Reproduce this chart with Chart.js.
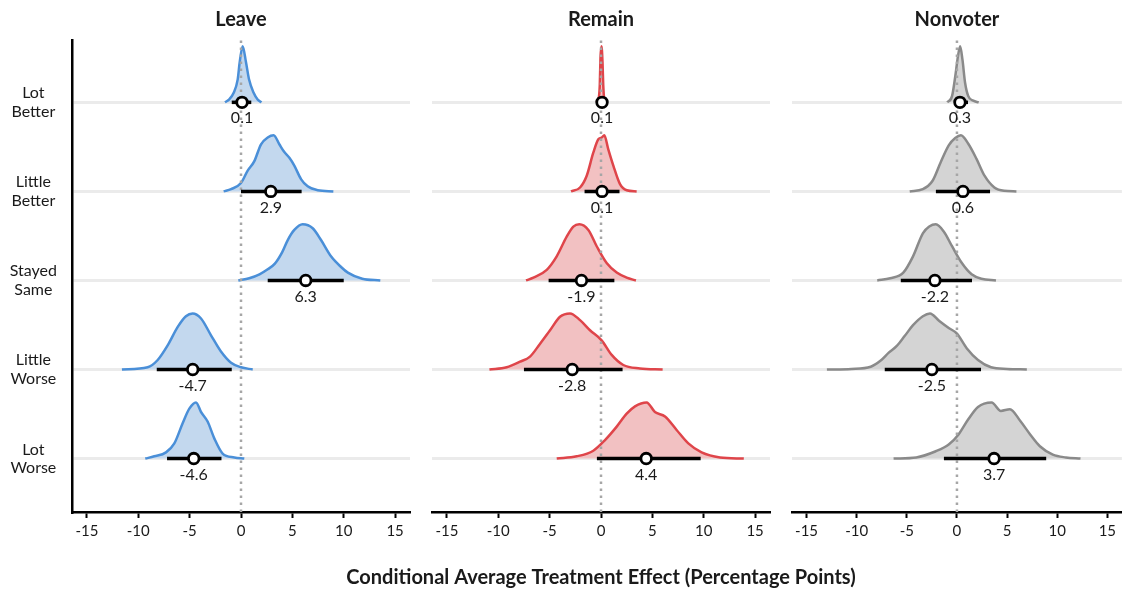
<!DOCTYPE html>
<html>
<head>
<meta charset="utf-8">
<script src="https://cdn.jsdelivr.net/npm/chart.js@4.4.1/dist/chart.umd.min.js"></script>
<style>
  html, body { margin: 0; padding: 0; background: #fff; }
  #wrap { position: relative; width: 1130px; height: 592px; overflow: hidden; }
  #wrap canvas { position: absolute; top: 0; }
</style>
</head>
<body>
<div id="wrap">
  <canvas id="leave-chart" width="420" height="592" style="left:0px"></canvas>
  <canvas id="nonvoter-chart" width="350" height="592" style="left:780px"></canvas>
  <canvas id="remain-chart" width="1130" height="592" style="left:0px"></canvas>
</div>
<script>
// rows, top to bottom
const categories = ['Lot Better', 'Little Better', 'Stayed Same', 'Little Worse', 'Lot Worse'];
const rowPos = [5, 4, 3, 2, 1];
const xTicks = [-15, -10, -5, 0, 5, 10, 15];
const axisTitle = 'Conditional Average Treatment Effect (Percentage Points)';

// density outlines: [effect, relative height]
const leaveLotBetter = [[-1.56,0],[-1.17,0.05],[-0.71,0.17],[-0.32,0.41],[-0.13,0.71],[0.16,1],[0.49,0.71],[0.78,0.41],[1.23,0.17],[1.62,0.05],[2.0,0]];
const leaveLittleBetter = [[-1.69,0],[-0.97,0.04],[0,0.15],[0.65,0.37],[1.3,0.54],[1.95,0.84],[2.6,0.96],[3.18,1],[3.73,0.84],[4.22,0.7],[4.71,0.6],[5.19,0.46],[5.84,0.22],[6.49,0.09],[7.47,0.02],[8.99,0]];
const leaveStayedSame = [[-0.26,0],[0.8,0.04],[1.8,0.11],[2.6,0.2],[3.3,0.3],[4.0,0.5],[4.55,0.72],[5.19,0.9],[6.0,1],[6.98,0.93],[7.79,0.72],[8.76,0.43],[9.74,0.24],[10.4,0.14],[11.8,0.03],[13.56,0]];
const leaveLittleWorse = [[-11.59,0],[-9.09,0.04],[-8.11,0.17],[-7.14,0.43],[-6.16,0.76],[-5.36,0.95],[-4.71,1],[-3.89,0.91],[-2.92,0.61],[-1.95,0.32],[-0.97,0.12],[0,0.04],[1.14,0]];
const leaveLotWorse = [[-9.32,0],[-8.44,0.04],[-7.3,0.11],[-6.49,0.27],[-5.68,0.63],[-5.03,0.89],[-4.38,1],[-3.89,0.83],[-3.25,0.66],[-2.6,0.36],[-1.79,0.09],[-0.65,0.02],[0.32,0]];

const remainLotBetter = [[-0.45,0],[-0.25,0.05],[-0.12,0.3],[-0.05,0.8],[0.05,1],[0.15,0.7],[0.22,0.3],[0.32,0.05],[0.45,0]];
const remainLittleBetter = [[-2.92,0],[-2.04,0.07],[-1.39,0.28],[-0.75,0.69],[-0.26,0.93],[0.07,0.96],[0.32,1],[0.71,0.75],[1.2,0.46],[1.85,0.13],[2.5,0.02],[3.47,0]];
const remainStayedSame = [[-7.3,0],[-6.58,0.05],[-5.28,0.19],[-4.31,0.43],[-3.34,0.78],[-2.69,0.96],[-2.11,1],[-1.23,0.9],[-0.42,0.61],[0.55,0.31],[1.53,0.14],[2.5,0.05],[3.4,0]];
const remainLittleWorse = [[-10.86,0],[-9.18,0.04],[-7.88,0.14],[-6.91,0.23],[-5.93,0.46],[-4.96,0.7],[-3.99,0.94],[-3.02,1],[-2.04,0.88],[-1.07,0.7],[0.06,0.52],[1.04,0.26],[2.17,0.08],[3.79,0.02],[6.0,0]];
const remainLotWorse = [[-4.31,0],[-2.37,0.04],[-0.75,0.14],[0.39,0.33],[1.53,0.57],[2.5,0.8],[3.31,0.93],[4.44,1],[5.25,0.83],[6.23,0.75],[7.36,0.51],[8.5,0.27],[9.79,0.11],[11.58,0.02],[13.9,0]];

const nonvoterLotBetter = [[-0.97,0],[-0.49,0.11],[-0.17,0.46],[0.1,0.82],[0.32,1],[0.55,0.76],[0.81,0.35],[1.13,0.11],[1.62,0.03],[2.17,0]];
const nonvoterLittleBetter = [[-4.71,0],[-3.4,0.04],[-2.43,0.19],[-1.62,0.52],[-0.82,0.82],[-0.17,0.95],[0.39,1],[1.13,0.85],[1.95,0.58],[2.75,0.28],[3.73,0.07],[4.7,0.01],[5.93,0]];
const nonvoterStayedSame = [[-7.95,0],[-6.65,0.04],[-5.35,0.14],[-4.38,0.43],[-3.4,0.84],[-2.76,0.96],[-2.11,1],[-1.3,0.87],[-0.49,0.61],[0.49,0.31],[1.46,0.11],[2.43,0.03],[3.89,0]];
const nonvoterLittleWorse = [[-12.97,0],[-10.54,0.01],[-8.6,0.05],[-7.6,0.16],[-6.8,0.3],[-6.0,0.42],[-5.2,0.6],[-4.38,0.79],[-3.4,0.95],[-2.69,1],[-1.79,0.87],[-0.82,0.74],[0,0.64],[0.97,0.38],[2.1,0.17],[3.4,0.04],[5.02,0.01],[6.97,0]];
const nonvoterLotWorse = [[-6.32,0],[-4.06,0.02],[-2.11,0.13],[-0.82,0.25],[0.16,0.43],[1.13,0.7],[2.1,0.92],[3.46,1],[4.38,0.85],[5.28,0.88],[6.32,0.67],[7.3,0.43],[8.27,0.22],[9.56,0.07],[10.86,0.02],[12.32,0]];

// medians and 95% intervals, same row order
const leaveMedian = [0.1, 2.9, 6.3, -4.7, -4.6];
const leaveLow = [-0.9, 0.0, 2.6, -8.2, -7.2];
const leaveHigh = [1.0, 5.9, 10.0, -0.9, -1.9];

const remainMedian = [0.1, 0.1, -1.9, -2.8, 4.4];
const remainLow = [-0.2, -1.6, -5.1, -7.5, -0.4];
const remainHigh = [0.3, 1.8, 1.3, 2.1, 9.7];

const nonvoterMedian = [0.3, 0.6, -2.2, -2.5, 3.7];
const nonvoterLow = [-0.1, -2.1, -5.6, -7.2, -1.3];
const nonvoterHigh = [1.1, 3.3, 1.5, 2.4, 8.9];

const SLAB_HEIGHT = 0.63;
const Y_MIN = 0.4, Y_MAX = 5.7;
const X_MIN = -16.45, X_MAX = 16.45;
const TEXT = '#1a1a1a';
const FONT = 'Lato, "Open Sans", sans-serif';

// value labels under each point, plus the shared x title on the middle panel
const valueLabels = {
  id: 'valueLabels',
  afterDatasetsDraw(chart, args, opts) {
    const { ctx, scales, chartArea } = chart;
    ctx.save();
    ctx.font = '16px ' + FONT;
    ctx.fillStyle = TEXT;
    ctx.textAlign = 'center';
    ctx.textBaseline = 'middle';
    opts.values.forEach((v, i) => {
      ctx.fillText(v.toFixed(1), scales.x.getPixelForValue(v), scales.y.getPixelForValue(rowPos[i]) + 16);
    });
    if (opts.xTitle) {
      ctx.font = 'bold 20px ' + FONT;
      ctx.fillText(opts.xTitle, (chartArea.left + chartArea.right) / 2, 578);
    }
    ctx.restore();
  }
};

function makePanel(canvasId, title, slabs, median, low, high, colors, opts) {
  const datasets = [];

  slabs.forEach((slab, i) => {
    const row = rowPos[i];
    datasets.push({
      data: slab.map(p => ({ x: p[0], y: row + SLAB_HEIGHT * p[1] })),
      borderColor: colors.line,
      backgroundColor: colors.fill,
      borderWidth: 2.5,
      fill: { value: row },
      cubicInterpolationMode: 'monotone',
      pointRadius: 0,
      order: 10 + i
    });
  });

  // zero reference
  datasets.push({
    data: [{ x: 0, y: Y_MIN }, { x: 0, y: Y_MAX }],
    borderColor: '#a6a6a6',
    borderWidth: 2.5,
    borderDash: [2.5, 4.5],
    pointRadius: 0,
    fill: false,
    order: 5
  });

  low.forEach((lo, i) => {
    datasets.push({
      data: [{ x: lo, y: rowPos[i] }, { x: high[i], y: rowPos[i] }],
      borderColor: '#000',
      borderWidth: 3.5,
      borderCapStyle: 'butt',
      pointRadius: 0,
      fill: false,
      order: 2
    });
  });

  datasets.push({
    data: median.map((m, i) => ({ x: m, y: rowPos[i] })),
    showLine: false,
    pointRadius: 5.3,
    pointBackgroundColor: '#fff',
    pointBorderColor: '#000',
    pointBorderWidth: 2.8,
    order: 0
  });

  return new Chart(document.getElementById(canvasId), {
    type: 'line',
    data: { datasets },
    plugins: [valueLabels],
    options: {
      responsive: false,
      animation: false,
      events: [],
      layout: { padding: { left: opts.padLeft, right: opts.padRight, top: 0, bottom: 4 } },
      plugins: {
        legend: { display: false },
        tooltip: { enabled: false },
        title: {
          display: true,
          text: title,
          fullSize: false,
          color: TEXT,
          font: { family: FONT, size: 20, weight: 'bold' },
          padding: { top: 8, bottom: 8 }
        },
        valueLabels: { values: median, xTitle: opts.xTitle }
      },
      scales: {
        x: {
          type: 'linear',
          min: X_MIN,
          max: X_MAX,
          afterBuildTicks: s => { s.ticks = xTicks.map(v => ({ value: v })); },
          afterFit: s => { s.height = 76; },
          ticks: {
            color: TEXT,
            font: { family: FONT, size: 15 },
            padding: 4,
            maxRotation: 0,
            callback: v => String(v)
          },
          grid: {
            display: true,
            drawOnChartArea: false,
            drawTicks: true,
            tickLength: 6,
            tickWidth: 2,
            tickColor: '#000'
          },
          border: { display: true, color: '#000', width: 2.5 }
        },
        y: {
          type: 'linear',
          min: Y_MIN,
          max: Y_MAX,
          afterBuildTicks: s => { s.ticks = rowPos.map(v => ({ value: v })); },
          afterFit: s => { s.width = opts.yWidth; },
          ticks: {
            display: opts.showY,
            color: TEXT,
            font: { family: FONT, size: 16, lineHeight: 1.15 },
            crossAlign: 'center',
            padding: 15,
            callback: v => categories[rowPos.indexOf(v)].split(' ')
          },
          grid: {
            color: '#ebebeb',
            lineWidth: 3,
            drawTicks: false
          },
          border: { display: opts.showY, color: '#000', width: 2.5 }
        }
      }
    }
  });
}

makePanel('leave-chart', 'Leave',
  [leaveLotBetter, leaveLittleBetter, leaveStayedSame, leaveLittleWorse, leaveLotWorse],
  leaveMedian, leaveLow, leaveHigh,
  { line: '#4a8fd8', fill: '#c3d8ee' },
  { padLeft: 0, padRight: 10, yWidth: 72, showY: true });

makePanel('remain-chart', 'Remain',
  [remainLotBetter, remainLittleBetter, remainStayedSame, remainLittleWorse, remainLotWorse],
  remainMedian, remainLow, remainHigh,
  { line: '#df454a', fill: '#f2c1c2' },
  { padLeft: 432, padRight: 360, yWidth: 0, showY: false, xTitle: axisTitle });

makePanel('nonvoter-chart', 'Nonvoter',
  [nonvoterLotBetter, nonvoterLittleBetter, nonvoterStayedSame, nonvoterLittleWorse, nonvoterLotWorse],
  nonvoterMedian, nonvoterLow, nonvoterHigh,
  { line: '#8a8a8a', fill: '#d4d4d4' },
  { padLeft: 12, padRight: 0, yWidth: 0, showY: false });
</script>
</body>
</html>
